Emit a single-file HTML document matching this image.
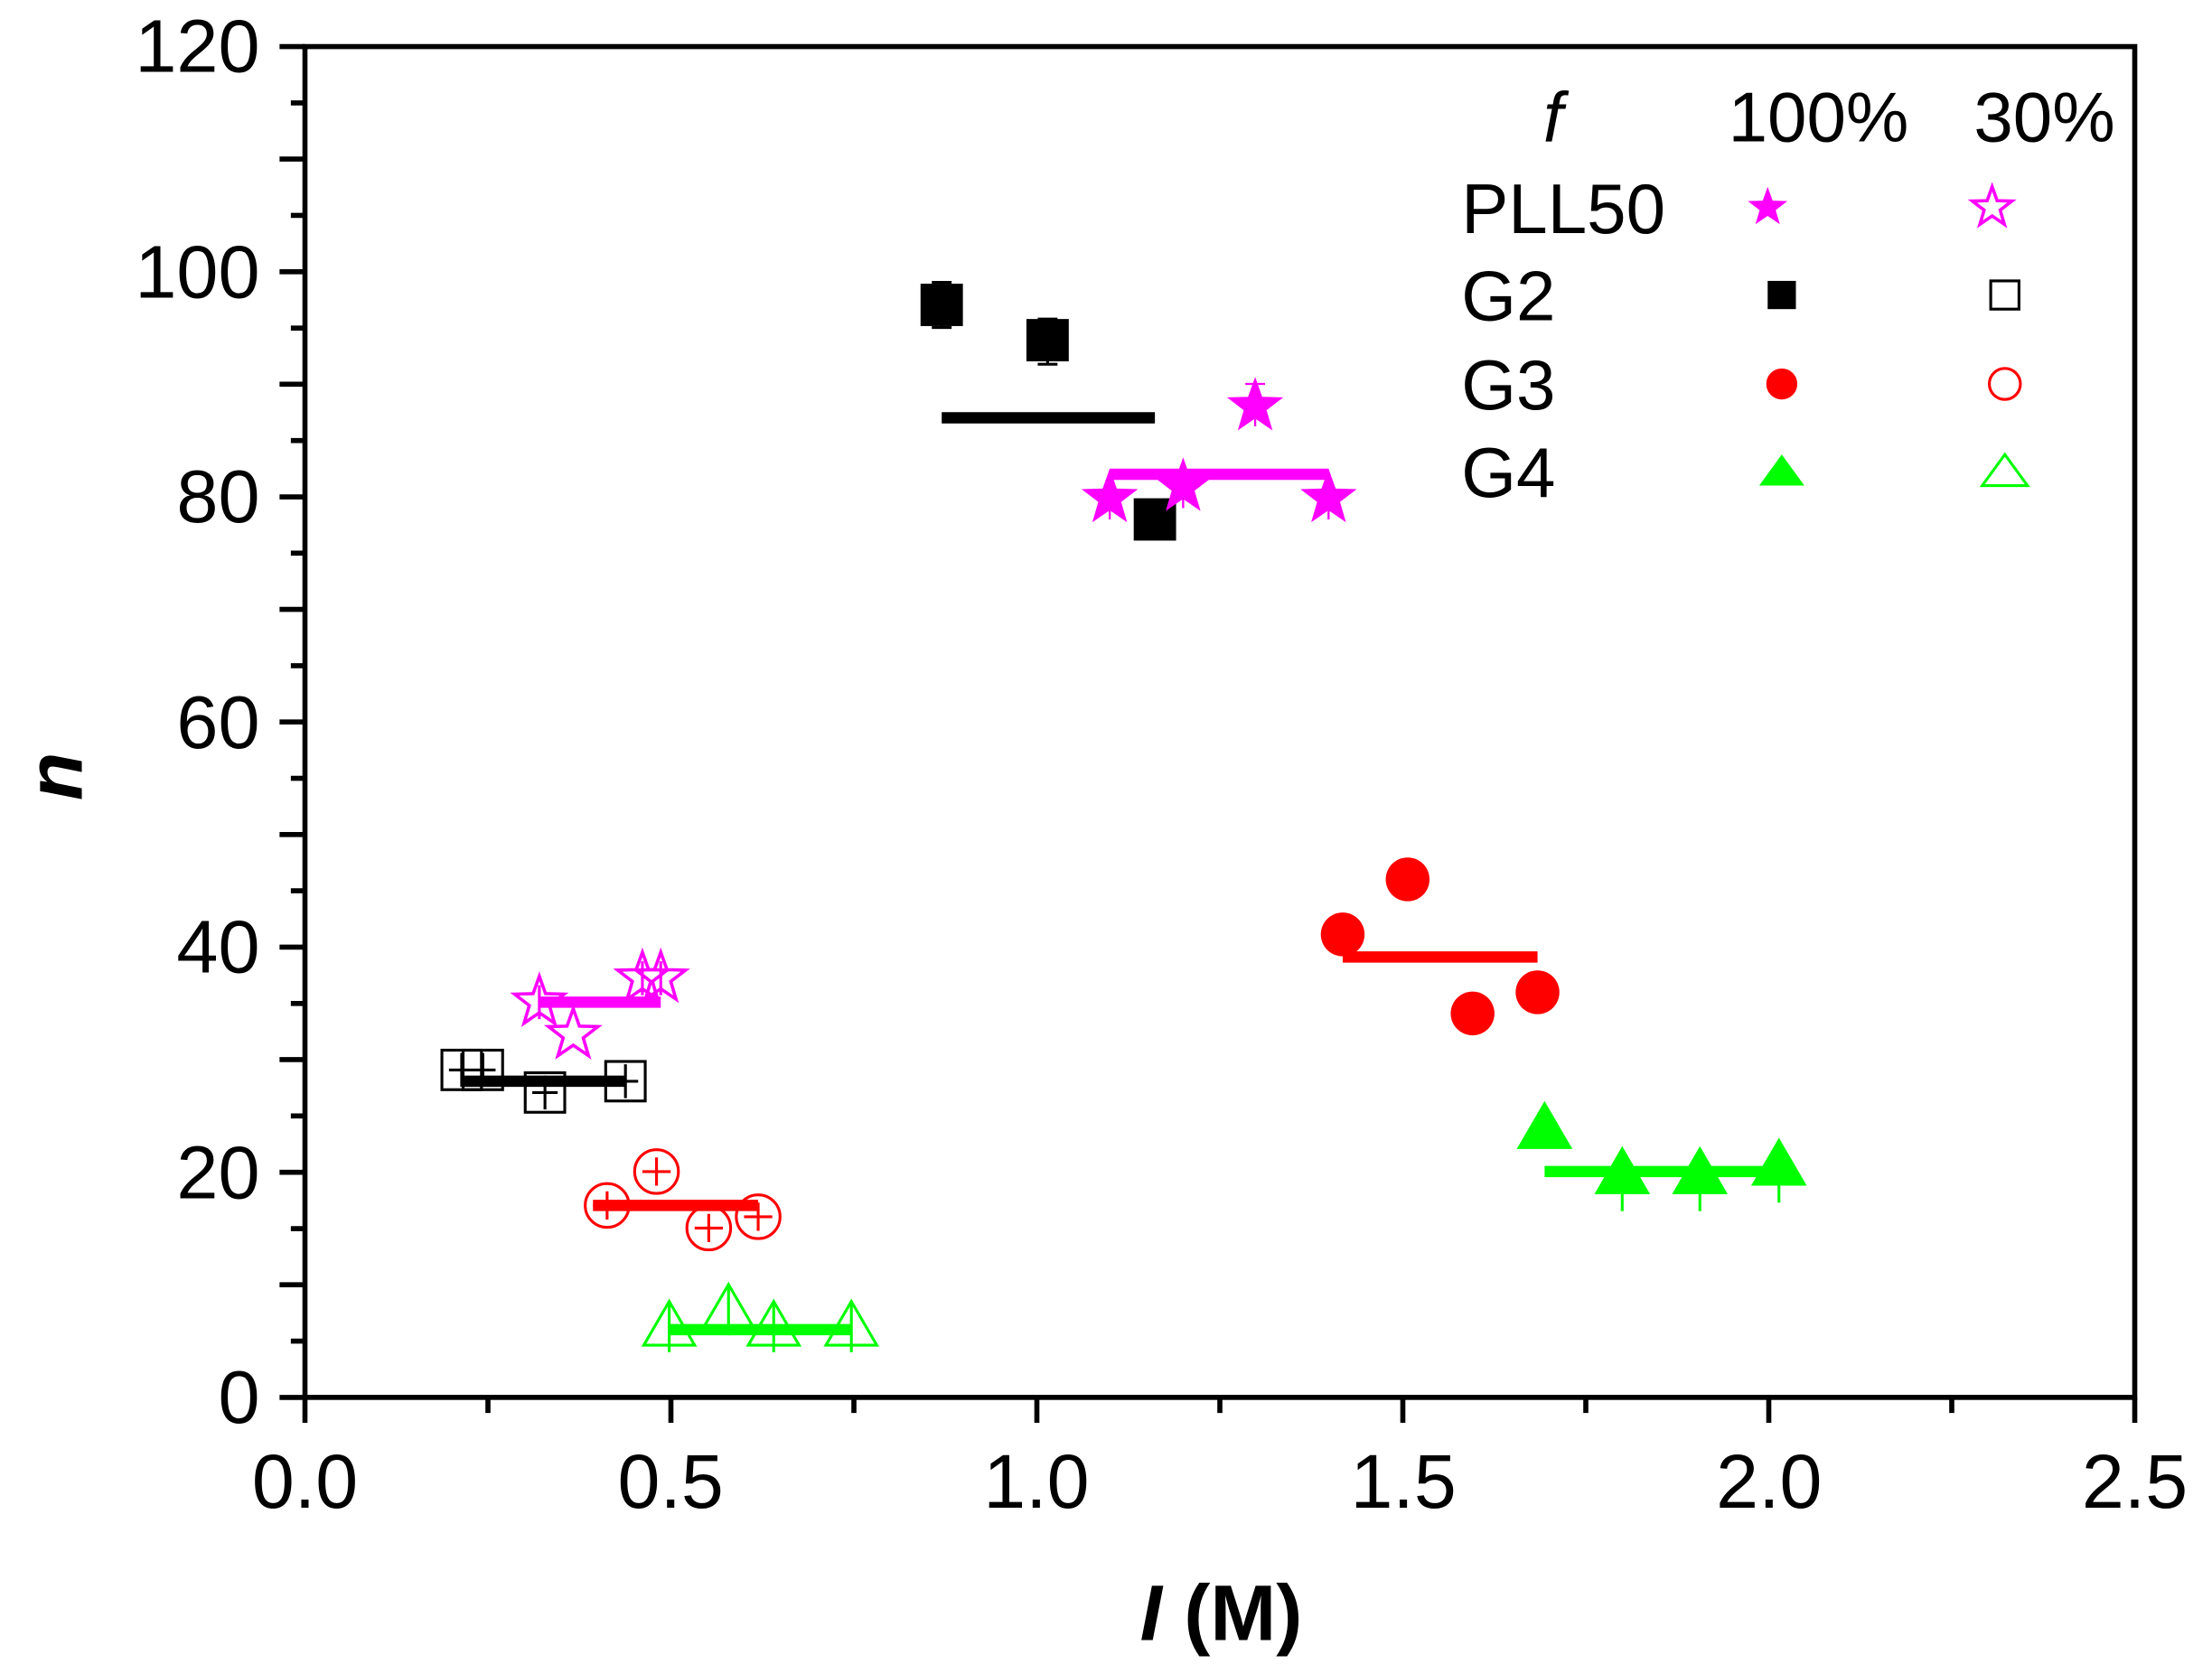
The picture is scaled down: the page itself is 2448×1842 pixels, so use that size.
<!DOCTYPE html>
<html><head><meta charset="utf-8"><style>
html,body{margin:0;padding:0;background:#fff;}
svg{display:block;}
text{font-family:"Liberation Sans",Arial,sans-serif;}
</style></head><body>
<svg width="2448" height="1842" viewBox="0 0 1566.72 1178.88" xmlns="http://www.w3.org/2000/svg">
<defs>
<path id="star" transform="scale(1.15)" d="M0,-16 L3.82,-5.26 15.22,-4.94 6.18,2.01 9.40,12.94 0,6.5 -9.40,12.94 -6.18,2.01 -15.22,-4.94 -3.82,-5.26Z"/>
<rect id="sq" x="-14" y="-14" width="28" height="28"/>
<circle id="ci" r="15.5"/>
<path id="tri" d="M0,-18 L18,13 L-18,13Z"/>
</defs>
<rect width="1566.72" height="1178.88" fill="#fff"/>

<g stroke="#000" stroke-width="3.6" fill="none">
<rect x="216" y="33" width="1296" height="957"/>
<path d="M216,990h-18M216,910.2h-18M216,830.5h-18M216,750.7h-18M216,671h-18M216,591.2h-18M216,511.5h-18M216,431.7h-18M216,352h-18M216,272.2h-18M216,192.5h-18M216,112.7h-18M216,33h-18"/>
<path d="M216,950.1h-10M216,870.4h-10M216,790.6h-10M216,710.9h-10M216,631.1h-10M216,551.4h-10M216,471.6h-10M216,391.9h-10M216,312.1h-10M216,232.4h-10M216,152.6h-10M216,72.9h-10"/>
<path d="M216,990v18M475.2,990v18M734.4,990v18M993.6,990v18M1252.8,990v18M1512,990v18"/>
<path d="M345.6,990v11M604.8,990v11M864,990v11M1123.2,990v11M1382.4,990v11"/>
</g>
<g font-size="53" fill="#000" text-anchor="end">
<text x="184" y="1008">0</text>
<text x="184" y="849">20</text>
<text x="184" y="689">40</text>
<text x="184" y="530">60</text>
<text x="184" y="370">80</text>
<text x="184" y="211">100</text>
<text x="184" y="51">120</text>
</g>
<g font-size="54" fill="#000" text-anchor="middle">
<text x="216" y="1068">0.0</text>
<text x="475" y="1068">0.5</text>
<text x="734" y="1068">1.0</text>
<text x="994" y="1068">1.5</text>
<text x="1253" y="1068">2.0</text>
<text x="1512" y="1068">2.5</text>
</g>
<text x="865" y="1162" font-size="56" font-weight="bold" text-anchor="middle"><tspan font-style="italic">I</tspan> (M)</text>
<text transform="translate(58,550) rotate(-90)" font-size="56" font-weight="bold" font-style="italic" text-anchor="middle">n</text>

<g stroke-width="8" fill="none">
<path d="M667,296H818" stroke="#000"/>
<path d="M786,336H941" stroke="#ff00ff"/>
<path d="M951,678H1089" stroke="#ff0000"/>
<path d="M1094,830H1260" stroke="#00ff00"/>
<path d="M382,710H468" stroke="#ff00ff"/>
<path d="M327,766H443" stroke="#000"/>
<path d="M420,854H537" stroke="#ff0000"/>
<path d="M474,942H603" stroke="#00ff00"/>
</g>

<g fill="#000" stroke="#000" stroke-width="2">
<path d="M667,200v32M660,200h14M660,232h14M742,226v32M735,226h14M735,258h14" fill="none"/>
<use href="#sq" x="667" y="216"/><use href="#sq" x="742" y="241"/><use href="#sq" x="818" y="368"/>
</g>
<g fill="#ff00ff" stroke="#ff00ff" stroke-width="1.5">
<path d="M889,272v30M882,272h14M786,340v28M838,332v28M941,340v28" fill="none"/>
<use href="#star" x="786" y="353"/><use href="#star" x="838" y="345"/><use href="#star" x="889" y="288"/><use href="#star" x="941" y="353"/>
</g>
<g fill="#ff0000">
<use href="#ci" x="951" y="662"/><use href="#ci" x="997" y="623"/><use href="#ci" x="1043" y="718"/><use href="#ci" x="1089" y="703"/>
</g>
<g fill="#00ff00" stroke="#00ff00" stroke-width="2">
<path d="M1149,820v38M1204,820v38M1260,814v38" fill="none"/>
<use href="#tri" x="1094" y="800"/><use href="#tri" x="1149" y="832"/><use href="#tri" x="1204" y="832"/><use href="#tri" x="1260" y="826"/>
</g>

<g fill="none" stroke="#ff00ff" stroke-width="2">
<use href="#star" x="382" y="710"/><use href="#star" x="406" y="733"/><use href="#star" x="455" y="693"/><use href="#star" x="468" y="693"/>
<path d="M382,698v24M455,681v24M468,681v24"/>
</g>
<g fill="none" stroke="#000" stroke-width="2">
<use href="#sq" x="327" y="758"/><use href="#sq" x="342" y="758"/><use href="#sq" x="386" y="774"/><use href="#sq" x="443" y="766"/>
<path d="M327,746v24M342,746v24M386,762v24M443,754v24M318,758h18M333,758h18M377,774h18M434,766h18"/>
</g>
<g fill="none" stroke="#ff0000" stroke-width="2">
<use href="#ci" x="430" y="854"/><use href="#ci" x="465" y="830"/><use href="#ci" x="502" y="870"/><use href="#ci" x="537" y="862"/>
<path d="M430,844v20M465,820v20M502,860v20M537,852v20M420,854h20M455,830h20M492,870h20M527,862h20"/>
</g>
<g fill="none" stroke="#00ff00" stroke-width="2">
<use href="#tri" x="474" y="940"/><use href="#tri" x="516" y="928"/><use href="#tri" x="548" y="940"/><use href="#tri" x="603" y="940"/>
<path d="M474,923v35M516,911v35M548,923v35M603,923v35"/>
</g>

<g font-size="50" fill="#000">
<text x="1100" y="100" font-style="italic" text-anchor="middle">f</text>
<text x="1288" y="100" text-anchor="middle">100%</text>
<text x="1448" y="100" text-anchor="middle">30%</text>
<text x="1035" y="165">PLL50</text>
<text x="1035" y="227">G2</text>
<text x="1035" y="290">G3</text>
<text x="1035" y="352">G4</text>
</g>
<use href="#star" transform="translate(1252,147) scale(0.8)" fill="#ff00ff"/>
<use href="#star" transform="translate(1411,147) scale(0.8)" fill="none" stroke="#ff00ff" stroke-width="2.5"/>
<rect x="1252" y="199" width="20" height="20" fill="#000"/>
<rect x="1410" y="199" width="20" height="20" fill="none" stroke="#000" stroke-width="2"/>
<circle cx="1262" cy="272" r="11" fill="#ff0000"/>
<circle cx="1420" cy="272" r="11" fill="none" stroke="#ff0000" stroke-width="2"/>
<path d="M1262,322L1278,344L1246,344Z" fill="#00ff00"/>
<path d="M1420,322L1436,344L1404,344Z" fill="none" stroke="#00ff00" stroke-width="2"/>
</svg>
</body></html>
